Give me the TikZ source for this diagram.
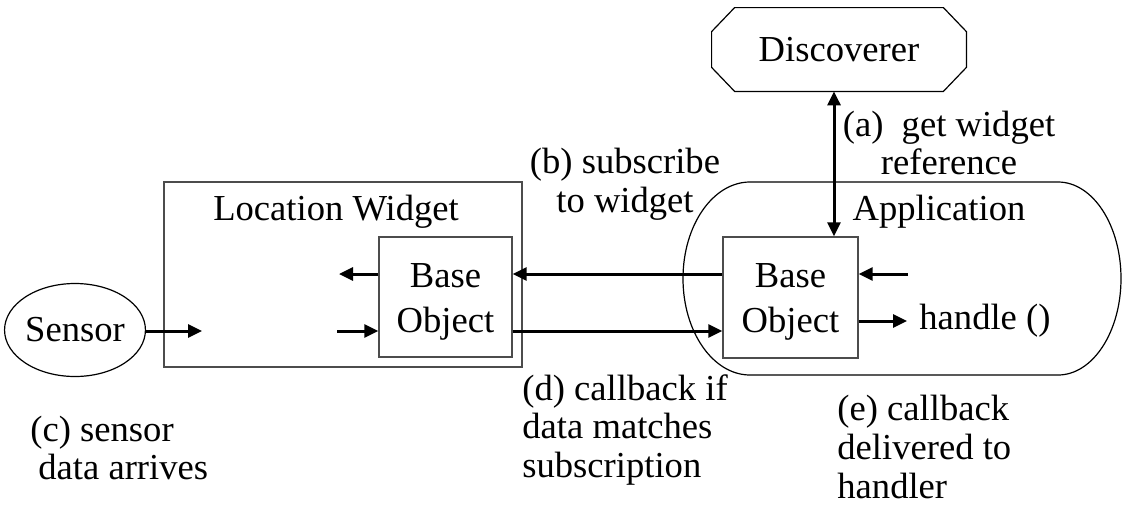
\documentclass[tikz,border=0pt]{standalone}
\usepackage{fontspec}
\setmainfont{Liberation Serif}
\usetikzlibrary{arrows.meta,shapes.geometric}
\begin{document}
\begin{tikzpicture}[x=0.5pt,y=-0.5pt,
  font=\fontsize{18.3}{19.3}\selectfont,
  >={Triangle[length=7pt,width=6.5pt]},
  box/.style={draw=black!70, line width=0.7pt, inner sep=0pt},
  arr/.style={line width=1.5pt, ->},
  thin/.style={line width=0.6pt},
  lbl/.style={inner sep=0pt},
  botext/.style={lbl, align=center, font=\fontsize{18.3}{22.5}\selectfont},
]
\useasboundingbox (0,0) rectangle (1123,509);

% Location widget
\node[box, minimum width=179pt, minimum height=92.5pt] (wid) at (343,274.5) {};
\node[lbl] (widl) at (336,212) {Location Widget};
\node[box, minimum width=66.5pt, minimum height=60pt] (bo1) at (445.5,297) {};
\node[botext] (bo1t) at (445.5,302) {Base\\Object};

% Sensor
\node[draw, thin, ellipse, minimum width=67pt, minimum height=46.5pt, inner sep=0pt] (sensor) at (75,330) {Sensor};

% Application
\draw[thin] (750,182) -- (1058,182)
  arc[start angle=90, end angle=-90, x radius=31.5pt, y radius=48.25pt]
  -- (750,375)
  arc[start angle=270, end angle=90, x radius=33.5pt, y radius=48.25pt] -- cycle;
\node[lbl] (app) at (939,212) {Application};
\node[box, minimum width=67.5pt, minimum height=60.5pt] (bo2) at (790.5,297.5) {};
\node[botext] (bo2t) at (790.5,302) {Base\\Object};
\node[lbl, anchor=west] (hd) at (919,321) {handle ()};

% Discoverer
\node[lbl, minimum width=127pt, minimum height=41.5pt] (disc) at (839,49.5) {Discoverer};
\draw[thin] ([xshift=11.5pt]disc.north west) -- ([xshift=-11.5pt]disc.north east)
  -- ([yshift=-12pt]disc.north east) -- ([yshift=12pt]disc.south east)
  -- ([xshift=-11.5pt]disc.south east) -- ([xshift=11.5pt]disc.south west)
  -- ([yshift=12pt]disc.south west) -- ([yshift=-12pt]disc.north west) -- cycle;

% Arrows
\coordinate (ax) at (834,0);
\draw[line width=1.5pt, <->] (ax |- disc.south) -- (ax |- bo2.north);

\coordinate (s1) at (202,331);
\draw[arr] (sensor.east |- s1) -- (s1);
\coordinate (w1) at (339,274);
\coordinate (w2) at (337,331);
\draw[arr] (bo1.west |- w1) -- (w1);
\draw[arr] (w2) -- (bo1.west |- w2);
\draw[arr] (bo2.west |- w1) -- (bo1.east |- w1);
\draw[arr] (bo1.east |- w2) -- (bo2.west |- w2);
\coordinate (a1) at (908,274);
\coordinate (a2) at (907,321);
\draw[arr] (a1) -- (bo2.east |- a1);
\draw[arr] (bo2.east |- a2) -- (a2);

% Labels
\node[lbl, align=center] (la) at (949,143) {(a)~ get widget\\reference};
\node[lbl, align=center] (lb) at (625,184) {(b) subscribe\\to widget};
\node[lbl, align=left, anchor=west] (lc) at (30,448) {(c) sensor\\\hspace{4pt}data arrives};
\node[lbl, align=left, anchor=west] (ld) at (522,430) {(d) callback if\\data matches\\subscription};
\node[lbl, align=left, anchor=west] (le) at (837,447) {(e) callback\\delivered to\\handler};
\end{tikzpicture}
\end{document}
